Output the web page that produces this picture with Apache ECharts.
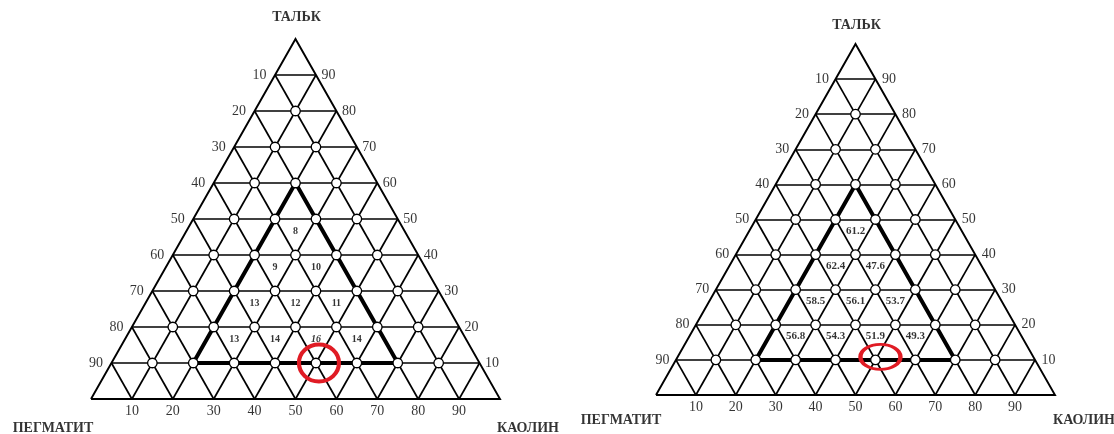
<!DOCTYPE html>
<html>
<head>
<meta charset="utf-8">
<script src="https://cdn.jsdelivr.net/npm/echarts@6/dist/echarts.min.js"></script>
<style>
html, body { margin: 0; padding: 0; background: #ffffff; }
#chart { width: 1114px; height: 434px; }
</style>
</head>
<body>
<div id="chart"></div>
<script>
// Vertex names of the ternary diagram
const topName = 'ТАЛЬК';
const leftName = 'ПЕГМАТИТ';
const rightName = 'КАОЛИН';

// Percent ticks on every side
const ticks = [10, 20, 30, 40, 50, 60, 70, 80, 90];

// Lower apex of each inverted cell inside the studied region: [пегматит, каолин, тальк], %
const cellApex = [
  [30, 30, 40],
  [40, 30, 30], [30, 40, 30],
  [50, 30, 20], [40, 40, 20], [30, 50, 20],
  [60, 30, 10], [50, 40, 10], [40, 50, 10], [30, 60, 10]
];

// Values written in the cells, left diagram
const valuesLeft = [8, 9, 10, 13, 12, 11, 13, 14, 16, 14];
// Values written in the cells, right diagram
const valuesRight = [61.2, 62.4, 47.6, 58.5, 56.1, 53.7, 56.8, 54.3, 51.9, 49.3];

// Corners of the studied region: [пегматит, каолин, тальк], %
const region = [[20, 20, 60], [70, 20, 10], [20, 70, 10]];

// Optimal composition: [пегматит, каолин, тальк], %
const optimum = [40, 50, 10];

// Ternary composition -> plot coordinates (x along the base, y = talc share)
function xy(peg, kao, talc) {
  return [kao + talc / 2, talc];
}

const SERIF = '"Liberation Serif", "Times New Roman", serif';

function gridSegments() {
  const segs = [];
  ticks.forEach(function (v) {
    segs.push({ coords: [xy(100 - v, 0, v), xy(0, 100 - v, v)] });   // talc = v
    segs.push({ coords: [xy(100 - v, v, 0), xy(0, v, 100 - v)] });   // kaolin = v
    segs.push({ coords: [xy(v, 100 - v, 0), xy(v, 0, 100 - v)] });   // pegmatite = v
  });
  return segs;
}

function interiorNodes() {
  const pts = [];
  ticks.forEach(function (t) {
    ticks.forEach(function (k) {
      const p = 100 - t - k;
      if (p > 0) pts.push(xy(p, k, t));
    });
  });
  return pts;
}

function centroid(a) {
  return xy(a[0] - 10 / 3, a[1] - 10 / 3, a[2] + 20 / 3);
}

function buildSeries(g, values, look) {
  const axes = { xAxisIndex: g, yAxisIndex: g };
  const hidden = { color: 'rgba(0,0,0,0)' };
  const out = [];

  out.push(Object.assign({
    type: 'lines', coordinateSystem: 'cartesian2d', z: 2, silent: true, clip: false,
    lineStyle: { color: '#000', width: 1.7, opacity: 1 },
    data: gridSegments()
  }, axes));

  out.push(Object.assign({
    type: 'lines', coordinateSystem: 'cartesian2d', polyline: true, z: 3, silent: true, clip: false,
    lineStyle: { color: '#000', width: 1.9, opacity: 1, join: 'miter', miterLimit: 20 },
    data: [{ coords: [xy(100, 0, 0), xy(0, 100, 0), xy(0, 0, 100), xy(100, 0, 0)] }]
  }, axes));

  out.push(Object.assign({
    type: 'lines', coordinateSystem: 'cartesian2d', polyline: true, z: 4, silent: true, clip: false,
    lineStyle: { color: '#000', width: 4, opacity: 1, join: 'miter' },
    data: [{ coords: region.concat([region[0]]).map(function (c) { return xy(c[0], c[1], c[2]); }) }]
  }, axes));

  out.push(Object.assign({
    type: 'scatter', z: 5, silent: true, clip: false,
    symbol: 'circle', symbolSize: 9.5,
    itemStyle: { color: '#fff', borderColor: '#000', borderWidth: 1.3, opacity: 1 },
    data: interiorNodes()
  }, axes));

  out.push(Object.assign({
    type: 'scatter', z: 6, silent: true, clip: false,
    symbol: 'path://M0,50A50,50 0 1 1 100,50A50,50 0 1 1 0,50Z',
    symbolSize: look.ring, symbolOffset: look.ringOffset,
    itemStyle: { color: 'rgba(0,0,0,0)', borderColor: '#e01b24', borderWidth: look.ringWidth, opacity: 1 },
    data: [xy(optimum[0], optimum[1], optimum[2])]
  }, axes));

  out.push(Object.assign({
    type: 'scatter', z: 7, silent: true, clip: false,
    symbolSize: 1, itemStyle: hidden,
    label: {
      show: true, position: 'inside', color: '#000', fontFamily: SERIF,
      fontWeight: 'bold', fontSize: look.cellFont,
      formatter: function (p) { return String(p.value[2]); }
    },
    data: cellApex.map(function (a, i) {
      const c = centroid(a);
      const item = { value: [c[0], c[1], values[i]] };
      if (look.italicCell === i) item.label = { fontStyle: 'italic' };
      return item;
    })
  }, axes));

  const tickLabel = { show: true, color: '#000', fontFamily: SERIF, fontSize: 14,
    formatter: function (p) { return String(p.value[2]); } };

  out.push(Object.assign({
    type: 'scatter', z: 7, silent: true, clip: false, symbolSize: 1, itemStyle: hidden,
    label: Object.assign({}, tickLabel, { position: 'left', distance: look.leftGap }),
    data: ticks.map(function (p) { const c = xy(p, 0, 100 - p); return [c[0], c[1], p]; })
  }, axes));

  out.push(Object.assign({
    type: 'scatter', z: 7, silent: true, clip: false, symbolSize: 1, itemStyle: hidden,
    label: Object.assign({}, tickLabel, { position: 'right', distance: look.rightGap }),
    data: ticks.map(function (t) { const c = xy(0, 100 - t, t); return [c[0], c[1], t]; })
  }, axes));

  out.push(Object.assign({
    type: 'scatter', z: 7, silent: true, clip: false, symbolSize: 1, itemStyle: hidden,
    label: Object.assign({}, tickLabel, { position: 'bottom', distance: look.bottomGap }),
    data: ticks.map(function (k) { const c = xy(100 - k, k, 0); return [c[0], c[1], k]; })
  }, axes));

  const nameLabel = { show: true, position: 'inside', color: '#000', fontFamily: SERIF,
    fontWeight: 'bold', fontSize: 14, formatter: '{b}' };
  out.push(Object.assign({
    type: 'scatter', z: 7, silent: true, clip: false, symbolSize: 1, itemStyle: hidden,
    label: nameLabel,
    data: [
      { name: topName, value: xy(0, 0, 100), label: { offset: look.topOffset } },
      { name: leftName, value: xy(100, 0, 0), label: { offset: look.leftOffset } },
      { name: rightName, value: xy(0, 100, 0), label: { offset: look.rightOffset } }
    ]
  }, axes));

  return out;
}

const lookLeft = {
  ring: [40, 37], ringOffset: [3, 0], ringWidth: 4,
  cellFont: 10, italicCell: 8,
  leftGap: 8, rightGap: 5, bottomGap: 5,
  topOffset: [1, -22], leftOffset: [-38, 29], rightOffset: [28, 29]
};
const lookRight = {
  ring: [40, 25], ringOffset: [5, -3], ringWidth: 3.5,
  cellFont: 11, italicCell: -1,
  leftGap: 6, rightGap: 6, bottomGap: 5,
  topOffset: [1, -19], leftOffset: [-35, 25], rightOffset: [29, 25]
};

const axisBase = { type: 'value', min: 0, max: 100, show: false };

const chart = echarts.init(document.getElementById('chart'), null, { renderer: 'canvas' });
chart.setOption({
  backgroundColor: '#ffffff',
  animation: false,
  grid: [
    { left: 91, top: 39, width: 409, height: 360, outerBoundsMode: 'none' },
    { left: 656, top: 44, width: 399, height: 351, outerBoundsMode: 'none' }
  ],
  xAxis: [Object.assign({ gridIndex: 0 }, axisBase), Object.assign({ gridIndex: 1 }, axisBase)],
  yAxis: [Object.assign({ gridIndex: 0 }, axisBase), Object.assign({ gridIndex: 1 }, axisBase)],
  series: buildSeries(0, valuesLeft, lookLeft).concat(buildSeries(1, valuesRight, lookRight))
});
</script>
</body>
</html>
